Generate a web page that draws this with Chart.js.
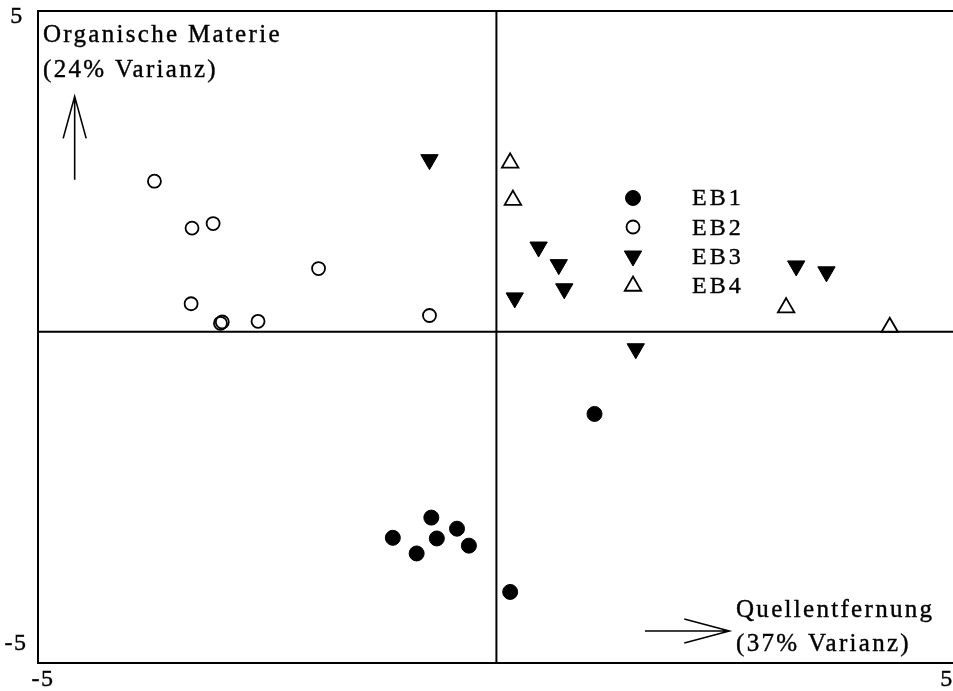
<!DOCTYPE html>
<html>
<head>
<meta charset="utf-8">
<script src="https://cdn.jsdelivr.net/npm/chart.js@4.4.1/dist/chart.umd.min.js"></script>
<style>
  html, body { margin: 0; padding: 0; background: #fff; overflow: hidden; }
  #wrap { width: 953px; height: 691px; }
</style>
</head>
<body>
<div id="wrap"><canvas id="myChart" width="953" height="691"></canvas></div>
<script>
'use strict';

// *********** DATA ***********
let seriesNames = ['EB1', 'EB2', 'EB3', 'EB4'];

let eb1X = [1.07, -0.71, -1.13, -0.65, -0.43, -0.30, -0.87, 0.15];
let eb1Y = [-1.26, -2.85, -3.16, -3.17, -3.02, -3.28, -3.40, -3.99];

let eb2X = [-3.73, -3.32, -3.09, -1.94, -3.33, -3.01, -2.99, -2.60, -0.73];
let eb2Y = [2.31, 1.59, 1.66, 0.97, 0.43, 0.13, 0.15, 0.16, 0.25];

let eb3X = [-0.73, 0.46, 0.68, 0.74, 0.20, 3.27, 3.60, 1.52];
let eb3Y = [2.64, 1.30, 1.03, 0.66, 0.52, 1.01, 0.92, -0.26];

let eb4X = [0.15, 0.18, 3.16, 4.29];
let eb4Y = [2.59, 2.02, 0.37, 0.07];

let cornerTicks = ['-5', '5'];
let xTitle = ['Quellentfernung', '(37% Varianz)'];
let yTitle = ['Organische Materie', '(24% Varianz)'];

// ********** HELPERS *************
function toPoints(xs, ys) {
  let pts = [];
  for (let i = 0; i < xs.length; i++) {
    pts.push({ x: xs[i], y: ys[i] });
  }
  return pts;
}

function drawArrow(c, x1, y1, x2, y2, headLen, headHalf) {
  let ang = Math.atan2(y2 - y1, x2 - x1);
  let bx = x2 - Math.cos(ang) * headLen;
  let by = y2 - Math.sin(ang) * headLen;
  let nx = -Math.sin(ang) * headHalf;
  let ny = Math.cos(ang) * headHalf;
  c.beginPath();
  c.moveTo(x1, y1);
  c.lineTo(x2, y2);
  c.moveTo(bx + nx, by + ny);
  c.lineTo(x2, y2);
  c.lineTo(bx - nx, by - ny);
  c.stroke();
}

// scanned print looks heavier than plain canvas text, so stroke it a little too
function heavyText(c, txt, x, y) {
  c.fillText(txt, x, y);
  c.strokeText(txt, x, y);
}

const serif = '"Liberation Serif", "Times New Roman", serif';

// frame, cross, arrows, axis texts and the legend
let pcaDecor = {
  id: 'pcaDecor',
  beforeDatasetsDraw(chart) {
    let c = chart.ctx;
    let a = chart.chartArea;
    let xs = chart.scales.x;
    let ys = chart.scales.y;
    let x0 = xs.getPixelForValue(0);
    let y0 = ys.getPixelForValue(0);

    c.save();
    c.strokeStyle = '#000';
    c.lineWidth = 2;
    c.beginPath();
    // right edge of the box falls off the page
    c.moveTo(a.right, a.top);
    c.lineTo(a.left, a.top);
    c.lineTo(a.left, a.bottom);
    c.lineTo(a.right, a.bottom);
    c.moveTo(x0, a.top);
    c.lineTo(x0, a.bottom);
    c.moveTo(a.left, y0);
    c.lineTo(a.right, y0);
    c.stroke();

    // direction arrows
    c.lineWidth = 1.6;
    let ax = xs.getPixelForValue(-4.6);
    drawArrow(c, ax, ys.getPixelForValue(2.33), ax, ys.getPixelForValue(3.61), 42, 11.5);
    let ay = ys.getPixelForValue(-4.59);
    drawArrow(c, xs.getPixelForValue(1.62), ay, xs.getPixelForValue(2.54), ay, 45, 12);

    // axis titles
    c.fillStyle = '#000';
    c.lineWidth = 0.4;
    c.font = '25px ' + serif;
    c.textAlign = 'left';
    c.textBaseline = 'alphabetic';
    c.letterSpacing = '2.3px';
    heavyText(c, yTitle[0], a.left + 5, 42);
    heavyText(c, yTitle[1], a.left + 5, 77);
    heavyText(c, xTitle[0], 736, 617);
    heavyText(c, xTitle[1], 736, 651);

    // corner tick labels
    c.letterSpacing = '1.5px';
    c.font = '24px ' + serif;
    c.textAlign = 'center';
    c.textBaseline = 'middle';
    heavyText(c, cornerTicks[1], a.left - 21, a.top + 6);
    heavyText(c, cornerTicks[0], a.left - 22, a.bottom - 19);
    heavyText(c, cornerTicks[0], a.left + 5, a.bottom + 17);
    heavyText(c, cornerTicks[1], a.right - 6, a.bottom + 17);
    c.restore();
  },
  afterDraw(chart) {
    let c = chart.ctx;
    let rowY = [198, 227, 256, 286];
    let baseY = [205, 235, 264, 293];
    c.save();
    for (let i = 0; i < chart.data.datasets.length; i++) {
      let ds = chart.data.datasets[i];
      c.fillStyle = ds.backgroundColor;
      c.strokeStyle = ds.borderColor;
      c.lineWidth = ds.borderWidth;
      Chart.helpers.drawPoint(c, {
        pointStyle: ds.pointStyle,
        rotation: ds.rotation || 0,
        radius: ds.pointRadius,
        borderWidth: ds.borderWidth
      }, 633, rowY[i]);
      c.fillStyle = '#000';
      c.strokeStyle = '#000';
      c.lineWidth = 0.4;
      c.font = '24px ' + serif;
      c.letterSpacing = '3px';
      c.textAlign = 'left';
      c.textBaseline = 'alphabetic';
      heavyText(c, ds.label, 692, baseY[i]);
    }
    c.restore();
  }
};

// ********** CHART ***********
let ctx = document.getElementById('myChart').getContext('2d');

let myChartObj = {
  type: 'scatter',
  data: {
    datasets: [{
      label: seriesNames[0],
      data: toPoints(eb1X, eb1Y),
      pointStyle: 'circle',
      pointRadius: 7.5,
      backgroundColor: '#000',
      borderColor: '#000',
      borderWidth: 1
    },
    {
      label: seriesNames[1],
      data: toPoints(eb2X, eb2Y),
      pointStyle: 'circle',
      pointRadius: 6.5,
      backgroundColor: 'rgba(255,255,255,0)',
      borderColor: '#000',
      borderWidth: 1.8
    },
    {
      label: seriesNames[2],
      data: toPoints(eb3X, eb3Y),
      pointStyle: 'triangle',
      rotation: 180,
      pointRadius: 10,
      backgroundColor: '#000',
      borderColor: '#000',
      borderWidth: 1
    },
    {
      label: seriesNames[3],
      data: toPoints(eb4X, eb4Y),
      pointStyle: 'triangle',
      pointRadius: 9.5,
      backgroundColor: 'rgba(255,255,255,0)',
      borderColor: '#000',
      borderWidth: 1.8
    }]
  },
  options: {
    responsive: false,
    animation: false,
    layout: {
      autoPadding: false,
      padding: { left: 38, top: 11, right: 0, bottom: 28 }
    },
    elements: {
      point: { hoverRadius: 8 }
    },
    scales: {
      x: { type: 'linear', min: -5, max: 4.98, display: false },
      y: { type: 'linear', min: -5.08, max: 4.92, display: false }
    },
    plugins: {
      legend: { display: false },
      tooltip: { enabled: false }
    }
  },
  plugins: [pcaDecor]
};

const myChart = new Chart(ctx, myChartObj);
</script>
</body>
</html>
